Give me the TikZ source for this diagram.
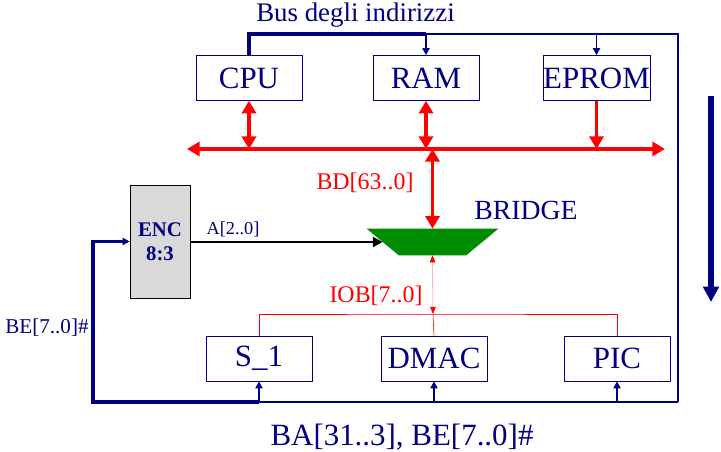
\documentclass[tikz,border=0pt]{standalone}
\usepackage{fontspec}
\setmainfont{Liberation Serif}
\usetikzlibrary{arrows.meta}
\definecolor{navy}{RGB}{0,0,128}
\definecolor{brgreen}{RGB}{0,140,0}
\definecolor{encgray}{RGB}{217,217,217}

\begin{document}
\begin{tikzpicture}[x=0.025cm, y=-0.025cm,
    blk/.style={draw=navy, thin, minimum width=2.65cm, minimum height=1.125cm, inner sep=0pt,
        text=navy, font=\fontsize{22}{24}\selectfont},
    lbl/.style={inner sep=0pt, text=navy},
    dbus/.style={red, line width=2.8pt, {Triangle[length=9pt,width=10pt]}-{Triangle[length=9pt,width=10pt]}},
    sbus/.style={red, line width=2.8pt, -{Triangle[length=9pt,width=10pt]}},
    abus/.style={navy, line width=1.3pt, -{Triangle[length=5pt,width=5pt]}}
]
    \useasboundingbox (0,0) rectangle (721,452);

    % memorie e cpu
    \node[blk] (cpu) at (249,78) {CPU};
    \node[blk] (ram) at (426,78) {RAM};
    \node[blk] (eprom) at (596.5,78) {EPROM};

    % periferiche
    \node[blk] (s1) at (259,358.5) {S\_1};
    \node[blk] (dmac) at (434,358.5) {DMAC};
    \node[blk] (pic) at (617,358.5) {PIC};

    \node[draw, thin, fill=encgray, minimum width=1.5cm, minimum height=2.825cm, align=center,
        text=navy, font=\fontsize{14.8}{17}\selectfont\bfseries] (enc) at (160,241.5) {ENC\\8:3};

    % bridge
    \node[inner sep=0pt, minimum width=3.275cm, minimum height=0.65cm] (bridge) at (432.5,242) {};
    \fill[brgreen] (bridge.north west) -- (bridge.north east)
        -- ([xshift=-0.8cm]bridge.south east) -- ([xshift=0.8cm]bridge.south west) -- cycle;
    \coordinate (brIn) at ([xshift=0.4cm]bridge.west);

    \coordinate (busL) at (187,149);
    \coordinate (busR) at (665,149);
    \coordinate (tbR) at (678,34);
    \coordinate (bbR) at (678,402);
    \coordinate (bbL) at (93,402);
    \coordinate (io) at (433,314);
    \coordinate (dirT) at (711,96);
    \coordinate (dirB) at (711,302);

    % bus dati
    \draw[dbus] (busL) -- (busR);
    \draw[dbus] (cpu.south) -- (cpu.south |- busL);
    \draw[dbus] (ram.south) -- (ram.south |- busL);
    \draw[sbus] (eprom.south) -- (eprom.south |- busL);
    \draw[dbus] (bridge.north |- busL) -- (bridge.north);

    % bus IO
    \draw[red, thin] (s1.north) |- (io) -| (pic.north);
    \draw[red, thin] (dmac.north) -- (io);
    \draw[red!45, thin, {Triangle[red, length=5pt, width=4pt]}-{Triangle[red, length=5pt, width=4pt]}]
        (bridge.south) -- (io);

    % bus indirizzi
    \draw[navy, line width=2.2pt] (cpu.north) |- (ram.north |- tbR);
    \draw[navy, line width=1.5pt] (ram.north |- tbR) -- (tbR) -- (bbR);
    \draw[navy, line width=2pt] (bbR) -- (s1.south |- bbL);
    \draw[navy, line width=2.7pt, -{Triangle[length=5pt,width=5pt]}] (s1.south |- bbL) -- (bbL) |- (enc.west);
    \draw[abus] (ram.north |- tbR) -- (ram.north);
    \draw[abus] (eprom.north |- tbR) -- (eprom.north);
    \draw[abus] (s1.south |- bbL) -- (s1.south);
    \draw[abus] (dmac.south |- bbL) -- (dmac.south);
    \draw[abus] (pic.south |- bbL) -- (pic.south);

    \draw[line width=2.1pt, -{Triangle[length=7pt,width=7pt]}] (enc.east |- brIn) -- (brIn);
    \draw[navy, line width=3.6pt, -{Triangle[length=11pt,width=11pt]}] (dirT) -- (dirB);

    % etichette
    \node[lbl, font=\fontsize{19.1}{21}\selectfont] (tbus) at (355.5,15) {Bus degli indirizzi};
    \node[lbl, font=\fontsize{15}{17}\selectfont] (bel) at (47,328) {BE[7..0]\#};
    \node[lbl, font=\fontsize{22}{24}\selectfont] (bal) at (402,437) {BA[31..3], BE[7..0]\#};
    \node[lbl, font=\fontsize{13}{15}\selectfont] (al) at (233,229) {A[2..0]};
    \node[lbl, text=red, font=\fontsize{17}{19}\selectfont] (bdl) at (365,183) {BD[63..0]};
    \node[lbl, text=red, font=\fontsize{17}{19}\selectfont] (iobl) at (376,296) {IOB[7..0]};
    \node[lbl, font=\fontsize{19.7}{21}\selectfont] (brl) at (526,210) {BRIDGE};
\end{tikzpicture}
\end{document}
